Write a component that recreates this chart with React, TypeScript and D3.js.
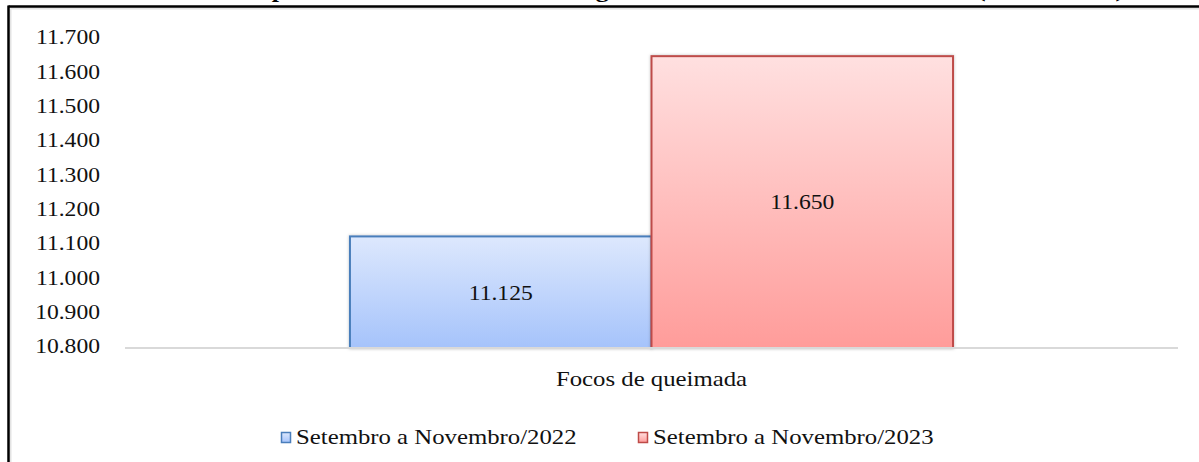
import React from "react";
import * as d3 from "d3";

const categories = ["Focos de queimada"];
const seriesNames = ["Setembro a Novembro/2022", "Setembro a Novembro/2023"];
const values2022 = [11125];
const values2023 = [11650];
const yTicks = [10800, 10900, 11000, 11100, 11200, 11300, 11400, 11500, 11600, 11700];
const titleText =
  "Gráfico 1 – Comparativo dos focos de calor registrados no Estado do Maranhão (2022 x 2023)";

const W = 1199;
const H = 462;
const SX = 1.18; // the source picture is stretched horizontally
const FONT = "'Liberation Serif', 'Times New Roman', serif";

const colors = [
  { stroke: "#4a7ebb", top: "#dde8fd", bottom: "#a5c3fb" },
  { stroke: "#be4b48", top: "#ffe0e0", bottom: "#ff9c9a" },
];

const fmt = d3.formatLocale({ decimal: ",", thousands: ".", grouping: [3], currency: ["R$", ""] }).format(",d");

const SText = ({ x, y, anchor = "middle", size = 20, weight = "normal", children }: any) => (
  <text
    transform={`translate(${x},${y}) scale(${SX},1)`}
    textAnchor={anchor}
    dominantBaseline="central"
    fontFamily={FONT}
    fontSize={size}
    fontWeight={weight}
    fill="#111"
  >
    {children}
  </text>
);

export default function App() {
  const x = d3.scaleBand().domain(categories).range([125, 1178]).paddingInner(0).paddingOuter(0.373);
  const xs = d3.scaleBand().domain(seriesNames).range([0, x.bandwidth()]).padding(0);
  const y = d3.scaleLinear().domain([10800, 11700]).range([348, 39]);

  const series = [values2022, values2023];

  return (
    <svg
      width={W}
      height={H}
      style={{ position: "absolute", left: 0, top: 0, display: "block", background: "#fff" }}
    >
      <defs>
        {colors.map((c, i) => (
          <linearGradient key={i} id={`g${i}`} x1="0" y1="0" x2="0" y2="1">
            <stop offset="0%" stopColor={c.top} />
            <stop offset="100%" stopColor={c.bottom} />
          </linearGradient>
        ))}
        <filter id="sh" x="-5%" y="-5%" width="110%" height="110%">
          <feDropShadow dx="0" dy="0" stdDeviation="1.5" floodColor="#000" floodOpacity="0.25" />
        </filter>
      </defs>

      {/* title, cut off by the top edge as in the source */}
      <text
        transform={`translate(88,-3) scale(${SX},1)`}
        fontFamily={FONT}
        fontSize={22}
        fontWeight="bold"
        fill="#000"
      >
        {titleText}
      </text>

      {/* frame */}
      <line x1={10.5} x2={W} y1={8.5} y2={8.5} stroke="#e3e3e3" strokeWidth={2} />
      <line x1={10.5} x2={10.5} y1={8.5} y2={H} stroke="#e3e3e3" strokeWidth={2} />
      <line x1={8.5} x2={W} y1={6.5} y2={6.5} stroke="#000" strokeWidth={2.5} />
      <line x1={8.5} x2={8.5} y1={5.5} y2={H} stroke="#000" strokeWidth={2.5} />

      {/* y tick labels */}
      {yTicks.map((t) => (
        <SText key={t} x={100} y={y(t) - 1} anchor="end" size={20}>
          {fmt(t)}
        </SText>
      ))}

      {/* bars */}
      {categories.map((cat, ci) =>
        seriesNames.map((s, si) => {
          const v = series[si][ci];
          const bx = (x(cat) ?? 0) + (xs(s) ?? 0);
          const by = y(v);
          const bh = y(10800) - by;
          return (
            <g key={s}>
              <rect
                x={bx}
                y={by}
                width={xs.bandwidth()}
                height={bh}
                fill={`url(#g${si})`}
                stroke={colors[si].stroke}
                strokeWidth={2}
                filter="url(#sh)"
              />
              <SText x={bx + xs.bandwidth() / 2} y={by + bh / 2 + 1} size={20}>
                {fmt(v)}
              </SText>
            </g>
          );
        })
      )}

      {/* baseline */}
      <line x1={125} x2={1178} y1={y(10800)} y2={y(10800)} stroke="#d9d9d9" strokeWidth={2} />

      {/* category labels */}
      {categories.map((cat) => (
        <SText key={cat} x={(x(cat) ?? 0) + x.bandwidth() / 2} y={379} size={21}>
          {cat}
        </SText>
      ))}

      {/* legend */}
      {seriesNames.map((s, i) => {
        const lx = [281, 638][i];
        return (
          <g key={s}>
            <rect
              x={lx + 0.5}
              y={432.5}
              width={9}
              height={10}
              fill={`url(#g${i})`}
              stroke={colors[i].stroke}
              strokeWidth={1.5}
            />
            <SText x={lx + 15} y={437} anchor="start" size={21}>
              {s}
            </SText>
          </g>
        );
      })}
    </svg>
  );
}
